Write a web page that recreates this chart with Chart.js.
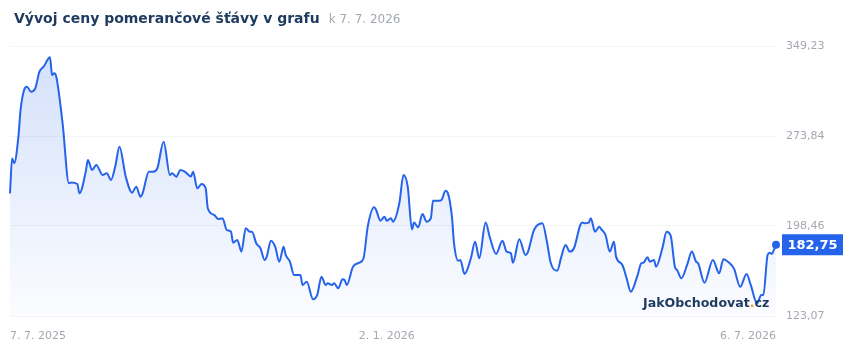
<!DOCTYPE html>
<html lang="cs">
<head>
<meta charset="UTF-8">
<title>Vývoj ceny pomerančové šťávy</title>
<script src="https://cdn.jsdelivr.net/npm/chart.js"></script>
<style>
  html, body { margin: 0; padding: 0; background: #fff; }
  body { width: 860px; height: 350px; position: relative; overflow: hidden; font-family: "DejaVu Sans", sans-serif; }
  .head { position: absolute; left: 14px; top: 8px; white-space: nowrap; }
  .head h1 { display: inline; font-size: 14px; font-weight: bold; color: #1e3a5f; margin: 0; }
  .head span { font-size: 12px; color: #a3a8b2; margin-left: 9px; }
  .brand { position: absolute; left: 643px; top: 295px; font-size: 12.6px; font-weight: bold; color: #1e3a5f; }
  .brand b { color: #f59e0b; }
  #wrap { position: absolute; left: 0; top: 0; width: 860px; height: 350px; }
</style>
</head>
<body>
<div id="wrap"><canvas id="myChart" width="860" height="350"></canvas></div>
<div class="head"><h1>Vývoj ceny pomerančové šťávy v grafu</h1><span>k 7. 7. 2026</span></div>
<div class="brand">JakObchodovat<b>.</b>cz</div>

<script>
    // days since 7. 7. 2025
    const days = [
        0, 1, 2, 4, 5, 7, 8, 10, 12, 14, 16, 19, 20, 21, 22, 25, 28, 29, 32, 33,
        36, 37, 39, 41, 44, 46, 48, 50, 52, 55, 58, 60, 62, 63, 66, 68, 70, 73, 76, 77,
        79, 81, 83, 86, 87, 89, 91, 93, 94, 97, 99, 101, 103, 105, 106, 108, 110, 112, 114, 115,
        117, 119, 121, 122, 124, 126, 128, 130, 131, 133, 135, 138, 139, 141, 144, 146, 148, 150, 151, 153,
        154, 156, 158, 159, 160, 163, 166, 168, 170, 173, 174, 176, 178, 179, 181, 182, 185, 187, 189, 191,
        192, 194, 196, 198, 200, 201, 204, 205, 207, 208, 210, 211, 213, 214, 216, 219, 221, 223, 226, 228,
        231, 234, 236, 238, 239, 242, 245, 246, 249, 253, 255, 257, 260, 262, 264, 266, 268, 271, 272, 273,
        275, 276, 278, 280, 281, 283, 285, 287, 288, 291, 293, 295, 298, 300, 301, 303, 304, 306, 307, 310,
        312, 314, 316, 317, 319, 322, 324, 326, 327, 330, 334, 337, 339, 342, 344, 347, 350, 352, 355, 357,
        358, 360, 361, 362, 363, 364
    ];
    const prices = [
        225.8, 255.1, 251.0, 273.3, 295.6, 313.8, 315.2, 311.0, 313.8, 327.7, 331.9, 339.8, 324.9, 326.4, 323.5, 284.5, 234.2, 234.8, 233.6, 225.8,
        244.0, 253.7, 245.4, 249.6, 241.2, 242.6, 237.0, 248.2, 264.9, 239.8, 226.4, 231.4, 223.0, 225.8, 244.0, 244.0, 246.8, 269.1, 241.2, 242.6,
        239.8, 245.4, 244.0, 240.0, 244.0, 230.0, 233.6, 230.0, 213.3, 207.7, 204.3, 204.9, 195.1, 193.7, 184.5, 186.7, 177.0, 196.5, 193.7, 193.7,
        184.0, 179.8, 170.0, 172.8, 186.2, 181.1, 168.6, 181.1, 174.2, 168.6, 157.4, 157.4, 149.1, 151.8, 137.0, 140.7, 156.0, 149.1, 150.5, 149.1,
        150.5, 146.3, 153.8, 153.2, 149.1, 164.4, 167.7, 171.4, 197.9, 214.1, 211.9, 202.9, 206.3, 202.9, 205.0, 202.1, 217.5, 241.2, 231.4, 195.7,
        201.3, 197.4, 208.5, 202.1, 205.0, 219.7, 219.7, 220.2, 228.0, 226.4, 206.3, 184.0, 169.4, 170.0, 158.3, 171.4, 185.3, 171.4, 201.3, 189.0,
        175.0, 186.2, 177.0, 175.6, 167.7, 187.3, 174.2, 176.1, 195.1, 200.7, 186.7, 167.2, 161.0, 172.8, 182.5, 177.0, 179.8, 199.3, 201.3, 200.7,
        201.3, 205.0, 193.7, 197.9, 195.7, 190.9, 177.0, 185.3, 172.8, 165.8, 154.7, 143.4, 156.0, 167.2, 167.7, 172.2, 168.6, 170.0, 164.4, 179.8,
        193.7, 190.1, 163.9, 161.6, 154.7, 167.2, 177.0, 168.6, 167.2, 151.0, 170.0, 158.8, 170.6, 167.2, 163.0, 147.6, 158.3, 149.1, 133.7, 140.7,
        140.7, 174.2, 176.1, 175.0, 178.4, 182.75
    ];
    const yTicks = [123.07, 198.46, 273.84, 349.23];
    const xTickDays = [0, 179, 364];

    const start = Date.UTC(2025, 6, 7);
    function dateLabel(d) {
        var dt = new Date(start + d * 86400000);
        return dt.getUTCDate() + '. ' + (dt.getUTCMonth() + 1) + '. ' + dt.getUTCFullYear();
    }
    function fmt(v) { return v.toFixed(2).replace('.', ','); }

    const points = days.map(function (d, i) { return { x: d, y: prices[i] }; });
    const last = points.length - 1;

    // box with the last price at the right axis
    const lastBox = {
        id: 'lastBox',
        afterDatasetsDraw(chart) {
            var ctx = chart.ctx;
            var y = chart.scales.y.getPixelForValue(prices[last]);
            ctx.save();
            ctx.fillStyle = '#2563eb';
            ctx.fillRect(782, y - 10.5, 61, 21);
            ctx.fillStyle = '#fff';
            ctx.font = 'bold 13px "DejaVu Sans"';
            ctx.textAlign = 'center';
            ctx.textBaseline = 'middle';
            ctx.fillText(fmt(prices[last]), 812.5, y + 0.5);
            ctx.restore();
        }
    };

    const ctx = document.getElementById('myChart').getContext('2d');
    new Chart(ctx, {
        type: 'line',
        data: {
            datasets: [{
                data: points,
                borderColor: '#2563eb',
                borderWidth: 2,
                cubicInterpolationMode: 'monotone',
                fill: 'start',
                backgroundColor: function (c) {
                    var a = c.chart.chartArea;
                    if (!a) return 'rgba(37,99,235,0.1)';
                    var g = c.chart.ctx.createLinearGradient(0, a.top, 0, a.bottom);
                    g.addColorStop(0, 'rgba(37,99,235,0.2)');
                    g.addColorStop(1, 'rgba(37,99,235,0.02)');
                    return g;
                },
                pointRadius: function (c) { return c.dataIndex === last ? 4 : 0; },
                pointBackgroundColor: '#2563eb',
                pointBorderWidth: 0,
                clip: 8
            }]
        },
        options: {
            responsive: false,
            animation: false,
            layout: { padding: { left: 10, top: 46, right: 0, bottom: 0 } },
            plugins: { legend: { display: false }, tooltip: { enabled: false } },
            scales: {
                x: {
                    type: 'linear',
                    min: 0,
                    max: 364,
                    afterBuildTicks: function (s) { s.ticks = xTickDays.map(function (v) { return { value: v }; }); },
                    afterFit: function (s) { s.height = 34; s.paddingLeft = 0; s.paddingRight = 0; },
                    grid: { display: false, drawTicks: false },
                    border: { display: false },
                    ticks: {
                        align: 'inner',
                        maxRotation: 0,
                        padding: 14,
                        color: '#a3a8b2',
                        font: { family: 'DejaVu Sans', size: 11 },
                        callback: function (v) { return dateLabel(v); }
                    }
                },
                y: {
                    position: 'right',
                    min: yTicks[0],
                    max: yTicks[yTicks.length - 1],
                    afterBuildTicks: function (s) { s.ticks = yTicks.map(function (v) { return { value: v }; }); },
                    afterFit: function (s) { s.width = 84; },
                    grid: { color: '#f3f4f6', drawTicks: false },
                    border: { display: false },
                    ticks: {
                        padding: 10,
                        color: '#a3a8b2',
                        font: { family: 'DejaVu Sans', size: 11 },
                        callback: function (v) { return fmt(v); }
                    }
                }
            }
        },
        plugins: [lastBox]
    });
</script>
</body>
</html>
